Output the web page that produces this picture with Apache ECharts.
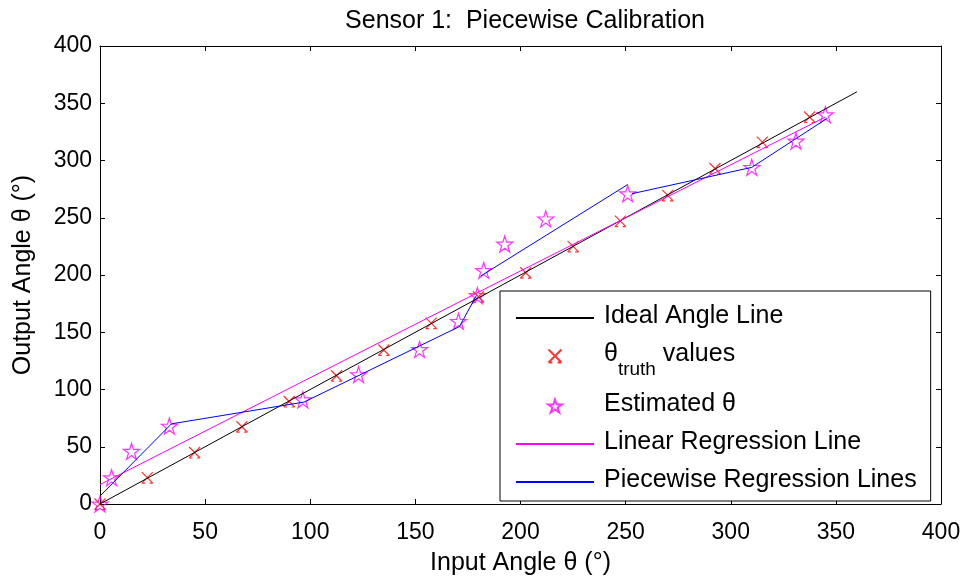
<!DOCTYPE html>
<html lang="en">
<head>
    <meta charset="UTF-8">
    <title>Sensor 1: Piecewise Calibration</title>
    <script src="https://cdn.jsdelivr.net/npm/echarts@6/dist/echarts.min.js"></script>
    <style>
        html, body { margin: 0; padding: 0; background: #fff; }
    </style>
</head>
<body>
<div id="main" style="width: 967px;height:579px;"></div>
<script>
    // data
    var idealX = [0, 360];
    var idealY = [0, 360];

    var truthX = [0, 22.5, 45, 67.5, 90, 112.5, 135, 157.5, 180, 202.5, 225, 247.5, 270, 292.5, 315, 337.5];
    var truthY = [0, 23, 45, 67.5, 89.5, 112, 134.5, 158, 181, 202, 225, 247, 269.5, 293, 316, 338];

    var estX = [0, 5.5, 15, 33, 96.5, 123, 152, 170.5, 179.5, 182.5, 192.5, 212, 251, 310, 331, 345];
    var estY = [0, 23, 46, 68, 91, 113, 135, 159.5, 182, 204, 227, 249, 271, 294, 317, 340];

    var linX = [0, 180, 345];
    var linY = [17, 185, 338];

    var pieceAX = [0, 34, 97, 171, 179];
    var pieceAY = [7, 70, 89, 155, 182];
    var pieceBX = [181, 251];
    var pieceBY = [199, 279];
    var pieceCX = [253, 310, 346];
    var pieceCY = [271, 294, 337];

    var xTicks = [0, 400, 50];
    var yTicks = [0, 400, 50];

    function pairs(xs, ys) {
        var out = [];
        for (var i = 0; i < xs.length; i++) out.push([xs[i], ys[i]]);
        return out;
    }

    var FONT = 'Liberation Sans, Arial, sans-serif';
    var STAR = 'path://M10,0L12.245,6.91L19.51,6.91L13.633,11.18L15.88,18.09L10,13.82L4.12,18.09L6.367,11.18L0.49,6.91L7.755,6.91Z';
    var CROSS = 'path://M0,0L10,10M10,0L0,10M0,10L3,10M7,10L10,10';

    var pieceStyle = {color: '#0000ff', width: 1};
    // hide the dot ECharts puts on line legend icons
    var noDot = {color: 'transparent', borderColor: 'transparent', opacity: 0};

    var option = {
        animation: false,
        backgroundColor: '#fff',
        title: {
            text: 'Sensor 1:  Piecewise Calibration',
            left: 520,
            textAlign: 'center',
            top: 4,
            textStyle: {fontFamily: FONT, fontSize: 25, fontWeight: 'normal', color: '#000'}
        },
        grid: {left: 100, right: 26, top: 46, bottom: 75, outerBoundsMode: 'none'},
        legend: {
            orient: 'vertical',
            left: 500,
            top: 291,
            padding: [13, 14, 8, 15],
            itemGap: 13,
            itemWidth: 78,
            itemHeight: 13,
            borderColor: '#000',
            borderWidth: 1,
            backgroundColor: '#fff',
            data: [
                {name: 'Ideal Angle Line', itemStyle: noDot},
                {name: 'truth'},
                {name: 'Estimated θ'},
                {name: 'Linear Regression Line', itemStyle: noDot},
                {name: 'Piecewise Regression Lines', itemStyle: noDot}
            ],
            formatter: function (name) {
                if (name === 'truth') return '{n|θ}{sub|truth}{n| values}';
                return '{n|' + name + '}';
            },
            textStyle: {
                fontFamily: FONT,
                fontSize: 25,
                color: '#000',
                padding: [0, 0, 0, 5],
                rich: {
                    n: {fontFamily: FONT, fontSize: 25, color: '#000', lineHeight: 28, verticalAlign: 'top'},
                    sub: {fontFamily: FONT, fontSize: 19, color: '#000', lineHeight: 19, padding: [18, 0, 0, 0], verticalAlign: 'top'}
                }
            }
        },
        xAxis: [{
            type: 'value',
            min: xTicks[0], max: xTicks[1], interval: xTicks[2],
            name: 'Input Angle θ (°)',
            nameLocation: 'middle',
            nameGap: 47,
            nameTextStyle: {fontFamily: FONT, fontSize: 25, color: '#000'},
            axisLine: {show: true, onZero: false, lineStyle: {color: '#000', width: 1}},
            axisTick: {show: true, inside: true, length: 5, lineStyle: {color: '#000'}},
            axisLabel: {fontFamily: FONT, fontSize: 23, color: '#000', margin: 17},
            splitLine: {show: false}
        }, {
            type: 'value',
            position: 'top',
            min: xTicks[0], max: xTicks[1], interval: xTicks[2],
            axisLine: {show: true, onZero: false, lineStyle: {color: '#000', width: 1}},
            axisTick: {show: true, inside: true, length: 5, lineStyle: {color: '#000'}},
            axisLabel: {show: false},
            splitLine: {show: false}
        }],
        yAxis: [{
            type: 'value',
            min: yTicks[0], max: yTicks[1], interval: yTicks[2],
            name: 'Output Angle θ (°)',
            nameLocation: 'middle',
            nameGap: 64,
            nameTextStyle: {fontFamily: FONT, fontSize: 25, color: '#000'},
            axisLine: {show: true, onZero: false, lineStyle: {color: '#000', width: 1}},
            axisTick: {show: true, inside: true, length: 5, lineStyle: {color: '#000'}},
            axisLabel: {fontFamily: FONT, fontSize: 23, color: '#000', margin: 8},
            splitLine: {show: false}
        }, {
            type: 'value',
            position: 'right',
            min: yTicks[0], max: yTicks[1], interval: yTicks[2],
            axisLine: {show: true, onZero: false, lineStyle: {color: '#000', width: 1}},
            axisTick: {show: true, inside: true, length: 5, lineStyle: {color: '#000'}},
            axisLabel: {show: false},
            splitLine: {show: false}
        }],
        series: [{
            name: 'Ideal Angle Line',
            type: 'line',
            symbol: 'none',
            lineStyle: {color: '#000', width: 1},
            itemStyle: {color: '#000'},
            data: pairs(idealX, idealY)
        }, {
            name: 'truth',
            type: 'scatter',
            symbol: CROSS,
            symbolSize: 11,
            itemStyle: {color: 'transparent', borderColor: '#ff0000', borderWidth: 1.2},
            data: pairs(truthX, truthY)
        }, {
            name: 'Estimated θ',
            type: 'scatter',
            symbol: STAR,
            symbolSize: 16,
            itemStyle: {color: 'transparent', borderColor: '#ff00ff', borderWidth: 1.2},
            data: pairs(estX, estY)
        }, {
            name: 'Linear Regression Line',
            type: 'line',
            symbol: 'none',
            lineStyle: {color: '#ff00ff', width: 1},
            itemStyle: {color: '#ff00ff'},
            data: pairs(linX, linY)
        }, {
            name: 'Piecewise Regression Lines',
            type: 'line',
            symbol: 'none',
            lineStyle: pieceStyle,
            itemStyle: {color: '#0000ff'},
            data: pairs(pieceAX, pieceAY)
        }, {
            name: 'Piecewise Regression Lines',
            type: 'line',
            symbol: 'none',
            lineStyle: pieceStyle,
            itemStyle: {color: '#0000ff'},
            data: pairs(pieceBX, pieceBY)
        }, {
            name: 'Piecewise Regression Lines',
            type: 'line',
            symbol: 'none',
            lineStyle: pieceStyle,
            itemStyle: {color: '#0000ff'},
            data: pairs(pieceCX, pieceCY)
        }]
    };

    var myChart = echarts.init(document.getElementById('main'));
    myChart.setOption(option);
</script>
</body>
</html>
